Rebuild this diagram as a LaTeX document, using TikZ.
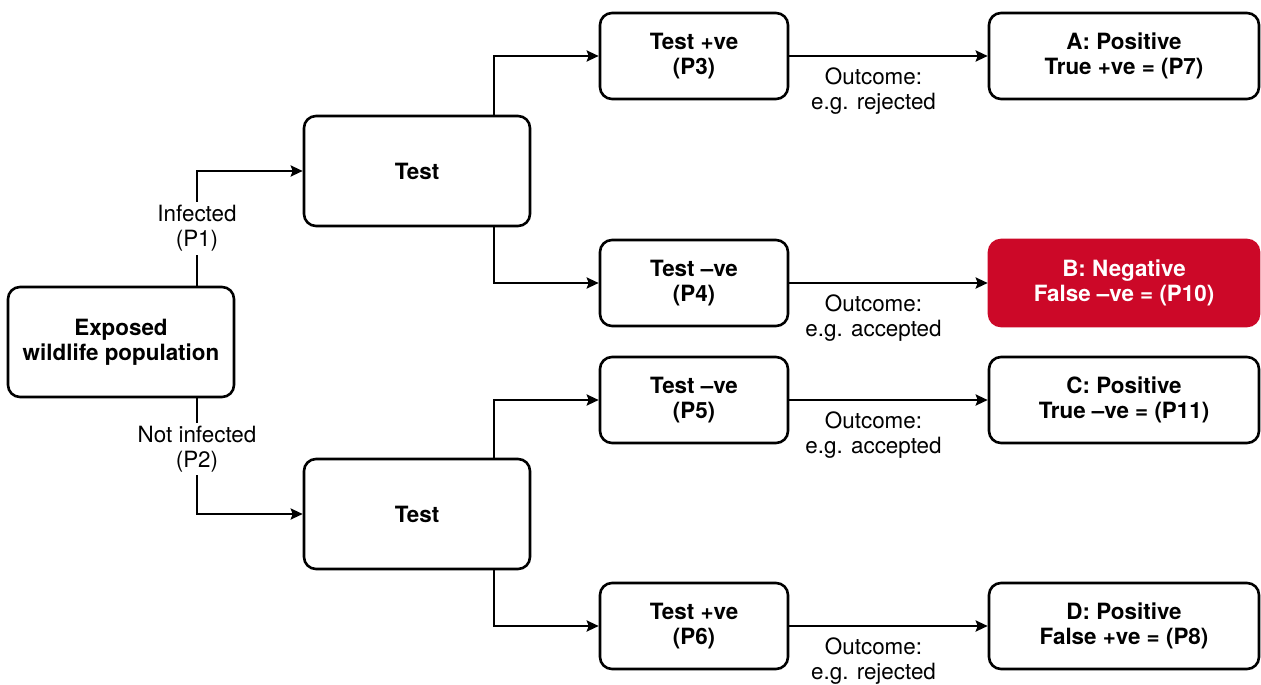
\documentclass[tikz,border=0pt]{standalone}
\usepackage{fontspec}
\setmainfont{TeX Gyre Heros}
\usetikzlibrary{arrows.meta}
\definecolor{alertred}{RGB}{204,8,40}
\begin{document}
\begin{tikzpicture}[x=0.5pt,y=-0.5pt,
  every node/.style={font=\fontsize{11.2}{12.6}\selectfont},
  box/.style={draw, line width=1.3pt, rounded corners=6pt, align=center,
    inner sep=0pt, font=\fontsize{11.2}{12.6}\selectfont\bfseries},
  bigbox/.style={box, minimum width=113pt, minimum height=55pt},
  midbox/.style={box, minimum width=94pt, minimum height=43pt},
  endbox/.style={box, minimum width=135pt, minimum height=43pt},
  hotbox/.style={endbox, draw=alertred, fill=alertred, text=white},
  arr/.style={line width=1.35pt, -{Stealth[length=6pt,width=5.5pt,inset=1pt]}},
  lbl/.style={align=center, fill=white, inner sep=1.5pt},
  outcome/.style={align=center, inner sep=0pt, xshift=-7.5pt, yshift=-17.5pt}]
\useasboundingbox (0,0) rectangle (1261,684);

% population and the two test stages
\node[bigbox] (exp) at (121,342) {Exposed\\wildlife population};
\node[bigbox] (t1) at (417,171) {Test};
\node[bigbox] (t2) at (417,514) {Test};

% test results
\node[midbox] (p3) at (694,56) {Test +ve\\(P3)};
\node[midbox] (p4) at (694,283) {Test \textendash ve\\(P4)};
\node[midbox] (p5) at (694,400) {Test \textendash ve\\(P5)};
\node[midbox] (p6) at (694,626) {Test +ve\\(P6)};

% final outcomes
\node[endbox] (a) at (1124,56) {A: Positive\\True +ve = (P7)};
\node[hotbox] (b) at (1124,283) {B: Negative\\False \textendash ve = (P10)};
\node[endbox] (c) at (1124,400) {C: Positive\\True \textendash ve = (P11)};
\node[endbox] (d) at (1124,626) {D: Positive\\False +ve = (P8)};

% infection branches
\draw[arr] ([xshift=38pt]exp.north) |- node[lbl, pos=0.25] {Infected\\(P1)} (t1.west);
\draw[arr] ([xshift=38pt]exp.south) |- node[lbl, pos=0.22] {Not infected\\(P2)} (t2.west);

% test result branches
\draw[arr] ([xshift=38.5pt]t1.north) |- (p3.west);
\draw[arr] ([xshift=38.5pt]t1.south) |- (p4.west);
\draw[arr] ([xshift=38.5pt]t2.north) |- (p5.west);
\draw[arr] ([xshift=38.5pt]t2.south) |- (p6.west);

% outcomes
\draw[arr] (p3) -- node[outcome] {Outcome:\\e.g. rejected} (a);
\draw[arr] (p4) -- node[outcome] {Outcome:\\e.g. accepted} (b);
\draw[arr] (p5) -- node[outcome] {Outcome:\\e.g. accepted} (c);
\draw[arr] (p6) -- node[outcome] {Outcome:\\e.g. rejected} (d);
\end{tikzpicture}
\end{document}
